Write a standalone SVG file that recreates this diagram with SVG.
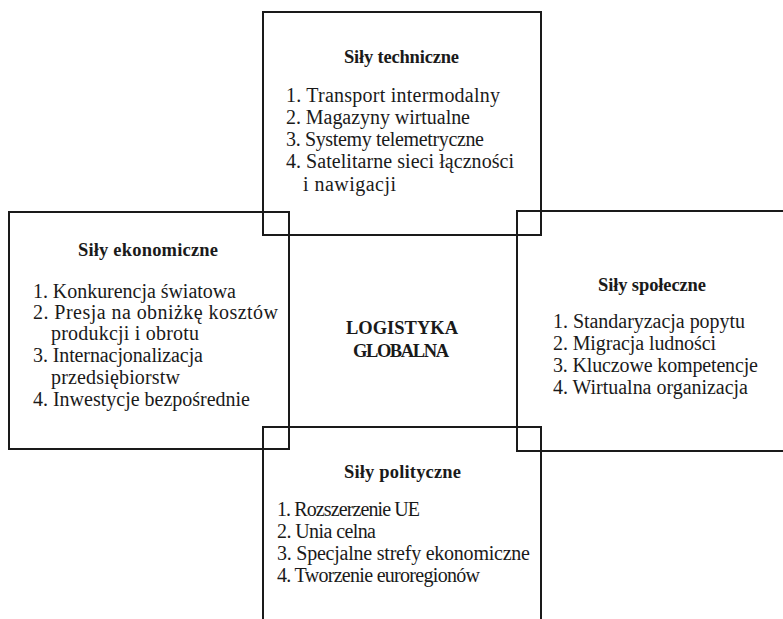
<svg xmlns="http://www.w3.org/2000/svg" width="783" height="619" viewBox="0 0 783 619">
<style>
.box{fill:none;stroke:#1a1a1a;stroke-width:2}
text{font-family:"Liberation Serif","DejaVu Serif",serif;fill:#1a1a1a}
.t{font-size:18.5px;font-weight:bold}
.i{font-size:20px}
.c{font-size:18.5px;font-weight:bold}
</style>
<rect width="783" height="619" fill="#ffffff"/>
<g id="node-techniczne">
<rect class="box" x="263" y="12" width="278" height="223"/>
<text class="t" x="344" y="63" textLength="115" lengthAdjust="spacing">Siły techniczne</text>
<text class="i" x="286" y="102" textLength="214" lengthAdjust="spacing">1. Transport intermodalny</text>
<text class="i" x="286" y="124" textLength="184" lengthAdjust="spacing">2. Magazyny wirtualne</text>
<text class="i" x="286" y="146" textLength="198" lengthAdjust="spacing">3. Systemy telemetryczne</text>
<text class="i" x="286" y="168" textLength="228" lengthAdjust="spacing">4. Satelitarne sieci łączności</text>
<text class="i" x="303" y="191" textLength="93" lengthAdjust="spacing">i nawigacji</text>
</g>
<g id="node-ekonomiczne">
<rect class="box" x="9" y="212" width="280" height="237"/>
<text class="t" x="78" y="256" textLength="140" lengthAdjust="spacing">Siły ekonomiczne</text>
<text class="i" x="33" y="298" textLength="203" lengthAdjust="spacing">1. Konkurencja światowa</text>
<text class="i" x="33" y="319" textLength="245" lengthAdjust="spacing">2. Presja na obniżkę kosztów</text>
<text class="i" x="51" y="340" textLength="148" lengthAdjust="spacing">produkcji i obrotu</text>
<text class="i" x="33" y="362" textLength="170" lengthAdjust="spacing">3. Internacjonalizacja</text>
<text class="i" x="51" y="384" textLength="129" lengthAdjust="spacing">przedsiębiorstw</text>
<text class="i" x="33" y="406" textLength="217" lengthAdjust="spacing">4. Inwestycje bezpośrednie</text>
</g>
<g id="node-spoleczne">
<rect class="box" x="517" y="211" width="280" height="240"/>
<text class="t" x="598" y="291" textLength="108" lengthAdjust="spacing">Siły społeczne</text>
<text class="i" x="553" y="328" textLength="192" lengthAdjust="spacing">1. Standaryzacja popytu</text>
<text class="i" x="553" y="350" textLength="163" lengthAdjust="spacing">2. Migracja ludności</text>
<text class="i" x="553" y="372" textLength="205" lengthAdjust="spacing">3. Kluczowe kompetencje</text>
<text class="i" x="553" y="394" textLength="195" lengthAdjust="spacing">4. Wirtualna organizacja</text>
</g>
<g id="node-polityczne">
<rect class="box" x="263" y="427" width="278" height="210"/>
<text class="t" x="344" y="478" textLength="117" lengthAdjust="spacing">Siły polityczne</text>
<text class="i" x="277" y="516" textLength="143" lengthAdjust="spacing">1. Rozszerzenie UE</text>
<text class="i" x="277" y="538" textLength="99" lengthAdjust="spacing">2. Unia celna</text>
<text class="i" x="277" y="560" textLength="253" lengthAdjust="spacing">3. Specjalne strefy ekonomiczne</text>
<text class="i" x="277" y="582" textLength="203" lengthAdjust="spacing">4. Tworzenie euroregionów</text>
</g>
<g id="node-logistyka">
<text class="c" x="346" y="334" textLength="112" lengthAdjust="spacing">LOGISTYKA</text>
<text class="c" x="353" y="357" textLength="96" lengthAdjust="spacing">GLOBALNA</text>
</g>
<g id="connectors"></g>
</svg>
